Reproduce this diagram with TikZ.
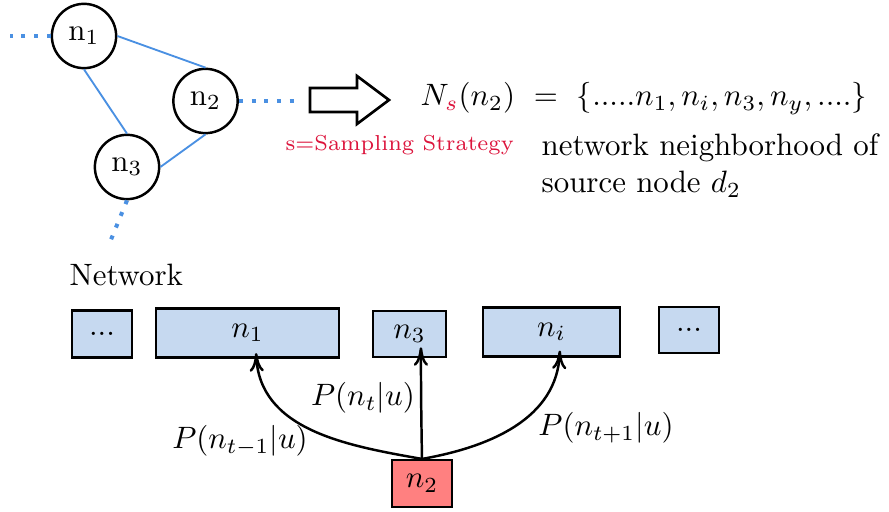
\documentclass[tikz,border=0pt]{standalone}
\usetikzlibrary{arrows.meta}
\definecolor{netblue}{RGB}{74,144,226}
\definecolor{boxblue}{RGB}{198,217,240}
\definecolor{boxred}{RGB}{255,128,128}
\definecolor{stratred}{RGB}{220,20,60}
\begin{document}
\begin{tikzpicture}[x=0.3236pt,y=-0.3236pt,
  vertex/.style={circle, draw, line width=0.8pt, minimum size=20.8pt, inner sep=0pt},
  edge/.style={netblue, line width=0.6pt},
  dotedge/.style={netblue, line width=1.3pt, dash pattern=on 1.3pt off 2.8pt},
  seqbox/.style={draw, fill=boxblue, line width=0.7pt, inner sep=0pt},
  srcbox/.style={draw, fill=boxred, line width=0.7pt, inner sep=0pt},
  prob/.style={-{Computer Modern Rightarrow[length=6pt,width=4.6pt]}, line width=0.8pt},
  lbl/.style={inner sep=0pt}]
\useasboundingbox (0,0) rectangle (889,512);

% small network
\node[vertex] (c1) at (84,36) {$\mathrm{n}_1$};
\node[vertex] (c2) at (205.5,101) {$\mathrm{n}_2$};
\node[vertex] (c3) at (127,167) {$\mathrm{n}_3$};
\draw[edge] (c1.east) -- (c2.north);
\draw[edge] (c1.south) -- (c3.north);
\draw[edge] (c2.south) -- (c3.east);
\coordinate (l1) at (10,36);
\coordinate (l2) at (298,101);
\coordinate (l3) at (108,247);
\draw[dotedge] (c1.west) -- (l1);
\draw[dotedge] (c2.east) -- (l2);
\draw[dotedge] (c3.south) -- (l3);

% hollow arrow
\draw[line width=0.85pt] (310,88) -- (357,88) -- (357,76) -- (389,100)
  -- (357,124) -- (357,112) -- (310,112) -- cycle;

% neighbourhood definition
\node[lbl, anchor=base west] (eq) at (420,106)
  {$N_{\textcolor{stratred}{s}}(n_2)\ =\ \{.....n_1, n_i, n_3, n_y, ....\}$};
\node[lbl, anchor=base west, font=\scriptsize, text=stratred] (strat) at (285,151)
  {s=Sampling Strategy};
\node[lbl, anchor=base west] (desc1) at (541,156) {network neighborhood of};
\node[lbl, anchor=base west] (desc2) at (541,193) {source node $d_2$};

\node[lbl, anchor=base west] (net) at (69,286) {Network};

% node sequence
\node[seqbox, minimum width=19.4pt, minimum height=15.2pt] (b0) at (102,334) {...};
\node[seqbox, minimum width=59.2pt, minimum height=15.9pt] (b1) at (247.5,333) {$n_1$};
\node[seqbox, minimum width=23.6pt, minimum height=14.9pt] (b3) at (409.5,334) {$n_3$};
\node[seqbox, minimum width=44.3pt, minimum height=15.9pt] (bi) at (551.5,332) {$n_i$};
\node[seqbox, minimum width=19.4pt, minimum height=14.9pt] (b5) at (689,330) {...};
\node[srcbox, minimum width=19.4pt, minimum height=15.2pt] (b2) at (422,483.5) {$n_2$};

% transition probabilities
\draw[prob] (b2.north) to[out=170,in=-88] ([xshift=2.8pt,yshift=1.8pt]b1.south);
\draw[prob] (b2.north) to[out=91,in=-90] ([xshift=3.7pt,yshift=3.5pt]b3.south);
\draw[prob] (b2.north) to[out=10,in=-92] ([xshift=2.7pt,yshift=2.3pt]bi.south);

\node[lbl] (p1) at (240,441) {$P(n_{t-1}|u)$};
\node[lbl] (p2) at (363,398) {$P(n_t|u)$};
\node[lbl] (p3) at (606,428) {$P(n_{t+1}|u)$};
\end{tikzpicture}
\end{document}
